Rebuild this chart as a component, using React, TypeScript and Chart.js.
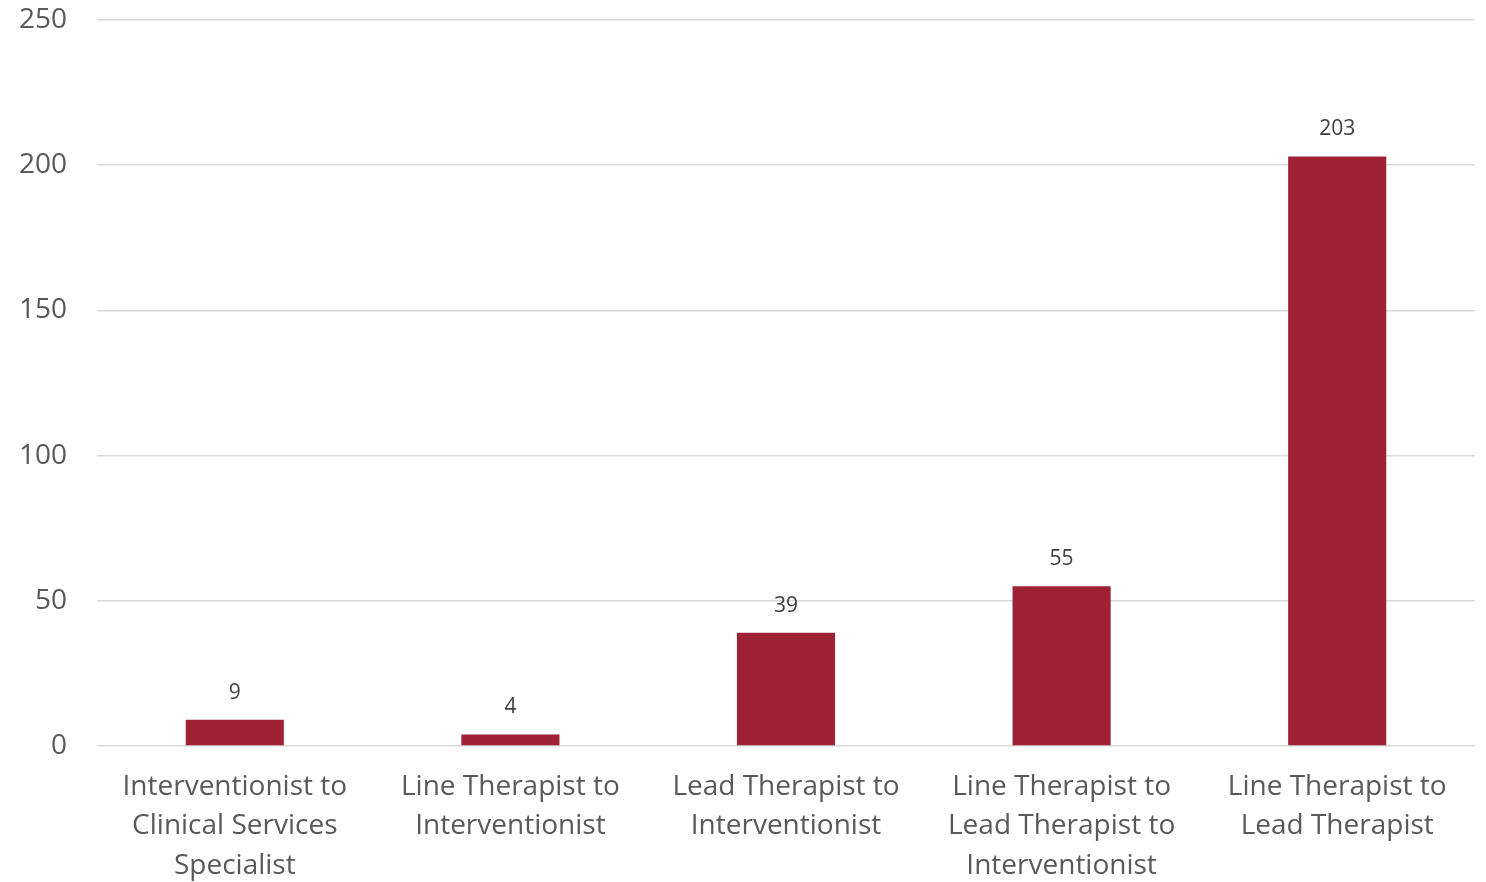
import React, { useEffect, useRef } from "react";
import { Chart, registerables } from "chart.js";

Chart.register(...registerables);

const categories: string[][] = [
  ["Interventionist to", "Clinical Services", "Specialist"],
  ["Line Therapist to", "Interventionist"],
  ["Lead Therapist to", "Interventionist"],
  ["Line Therapist to", "Lead Therapist to", "Interventionist"],
  ["Line Therapist to", "Lead Therapist"],
];
const values: number[] = [9, 4, 39, 55, 203];
const yTicks: number[] = [0, 50, 100, 150, 200, 250];

const FONT = "'Open Sans', sans-serif";

const dataLabels = {
  id: "dataLabels",
  afterDatasetsDraw(chart: any) {
    const ctx = chart.ctx;
    const meta = chart.getDatasetMeta(0);
    ctx.save();
    ctx.font = `21px ${FONT}`;
    ctx.fillStyle = "#404040";
    ctx.textAlign = "center";
    ctx.textBaseline = "middle";
    meta.data.forEach((bar: any, i: number) => {
      ctx.fillText(String(values[i]), bar.x, bar.y - 27);
    });
    ctx.restore();
  },
};

export default function App() {
  const ref = useRef<HTMLCanvasElement>(null);
  useEffect(() => {
    if (!ref.current) return;
    const chart = new Chart(ref.current, {
      type: "bar",
      data: {
        labels: categories,
        datasets: [
          {
            data: values,
            backgroundColor: "#9E2136",
            categoryPercentage: 1,
            barPercentage: 0.356,
          },
        ],
      },
      options: {
        animation: false,
        responsive: false,
        devicePixelRatio: 1,
        layout: { padding: { top: 0, right: 11, bottom: 0, left: 0 } },
        plugins: { legend: { display: false }, tooltip: { enabled: false } },
        scales: {
          x: {
            grid: { display: false, drawTicks: false },
            border: { display: false },
            ticks: {
              color: "#595959",
              font: { family: FONT, size: 28, lineHeight: 1.41 },
              padding: 21,
              maxRotation: 0,
              autoSkip: false,
            },
            afterFit: (scale: any) => {
              scale.height = 136;
            },
          },
          y: {
            min: 0,
            max: 250,
            afterBuildTicks: (scale: any) => {
              scale.ticks = yTicks.map((v) => ({ value: v }));
            },
            grid: { color: "#D9D9D9", lineWidth: 1.5, drawTicks: false },
            border: { display: false },
            ticks: {
              color: "#595959",
              font: { family: FONT, size: 28, lineHeight: 1.2 },
              padding: 30,
            },
            afterFit: (scale: any) => {
              scale.width = 97;
              scale.paddingTop = 20;
              scale.paddingBottom = 0;
            },
          },
        },
      },
      plugins: [dataLabels],
    });
    return () => chart.destroy();
  }, []);
  return (
    <div style={{ position: "fixed", left: 0, top: 0, width: 1486, height: 882, background: "#fff" }}>
      <canvas ref={ref} width={1486} height={882} style={{ width: 1486, height: 882 }} />
    </div>
  );
}
